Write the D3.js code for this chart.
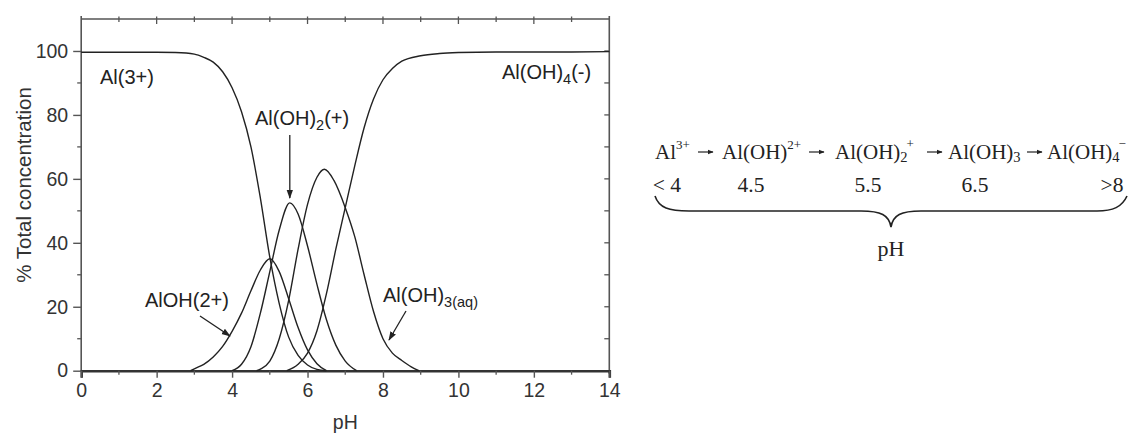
<!DOCTYPE html>
<html>
<head>
<meta charset="utf-8">
<script src="https://cdn.jsdelivr.net/npm/d3@7"></script>
<style>
  html, body { margin: 0; padding: 0; background: #fff; }
  svg { display: block; }
</style>
</head>
<body>
<svg id="chart" width="1128" height="435"></svg>
<script>
// Aluminium species distribution (% of total Al) versus pH
const phAl3 = [0, 1, 2, 2.5, 3, 3.25, 3.5, 3.75, 4, 4.25, 4.5, 4.75, 5, 5.25, 5.5, 5.75, 6, 6.25, 6.5];
const al3 = [99.6, 99.6, 99.6, 99.5, 99, 98, 96.5, 93.5, 88.5, 81, 70, 54, 35.5, 21, 10.5, 4.8, 1.8, 0.4, 0];

const phAlOH = [2.9, 3, 3.25, 3.5, 3.75, 4, 4.25, 4.5, 4.75, 5, 5.25, 5.5, 5.75, 6, 6.25, 6.5];
const alOH = [0, 0.6, 2, 4.3, 7.6, 12.3, 18, 25, 31.5, 35, 31, 22.5, 13.5, 6.5, 2.2, 0];

const phAlOH2 = [4, 4.25, 4.5, 4.75, 5, 5.25, 5.53, 5.75, 6, 6.25, 6.5, 6.75, 7, 7.3];
const alOH2 = [0, 2, 7.5, 18, 31, 44, 52.5, 49, 39, 27, 16, 8, 3, 0];

const phAlOH3 = [4.65, 4.75, 5, 5.25, 5.5, 5.75, 6, 6.25, 6.45, 6.7, 7, 7.25, 7.5, 7.75, 8, 8.25, 8.5, 8.75, 8.95];
const alOH3 = [0, 0.5, 3, 10, 22, 38, 52, 60.5, 63, 59.5, 51, 42, 30, 18.5, 10, 5.5, 3.2, 1.2, 0];

const phAlOH4 = [5.45, 5.75, 6, 6.25, 6.5, 6.75, 7, 7.25, 7.5, 7.75, 8, 8.25, 8.5, 9, 9.5, 10, 11, 12, 13, 14];
const alOH4 = [0, 2, 5.5, 12.5, 24, 38, 51, 64, 76, 85, 91, 94.5, 96.8, 98.5, 99.2, 99.5, 99.7, 99.7, 99.7, 99.8];

const xTicks = [0, 2, 4, 6, 8, 10, 12, 14];
const yTicks = [0, 20, 40, 60, 80, 100];

// Hydrolysis sequence shown beside the plot
const schemeSpecies = ["Al", "Al(OH)", "Al(OH)", "Al(OH)", "Al(OH)"];
const schemeSub = ["", "", "2", "3", "4"];
const schemeSup = ["3+", "2+", "+", "", "\u2212"];
const schemePH = ["< 4", "4.5", "5.5", "6.5", ">8"];

const svg = d3.select("#chart");
const plotL = 81.2, plotR = 609.3, plotT = 19, plotB = 370.7;

const x = d3.scaleLinear().domain([0, 14]).range([plotL, plotR]);
const y = d3.scaleLinear().domain([0, 110]).range([plotB, plotT]);

const ink = "#222";
const axisInk = "#555";
const sans = "'Liberation Sans', Arial, sans-serif";
const serif = "'Liberation Serif', 'Times New Roman', serif";

// Frame
const frame = svg.append("g");
frame.append("line").attr("x1", plotL).attr("x2", plotL).attr("y1", plotT - 3).attr("y2", plotB)
  .attr("stroke", axisInk).attr("stroke-width", 1.6);
frame.append("line").attr("x1", plotR).attr("x2", plotR).attr("y1", plotT - 3).attr("y2", plotB + 3)
  .attr("stroke", axisInk).attr("stroke-width", 1.6);
frame.append("line").attr("x1", plotL).attr("x2", plotR).attr("y1", plotT).attr("y2", plotT)
  .attr("stroke", axisInk).attr("stroke-width", 1.4);

// Bottom axis
const xAxis = d3.axisBottom(x).tickValues(xTicks).tickSize(7).tickPadding(5).tickFormat(d3.format("d"));
const gx = svg.append("g").attr("transform", `translate(0,${plotB})`).call(xAxis);
gx.select(".domain").attr("stroke", "#333").attr("stroke-width", 2.6);
gx.selectAll(".tick line").attr("stroke", axisInk).attr("stroke-width", 1.4);
gx.selectAll(".tick text").attr("font-family", sans).attr("font-size", 19.5).attr("fill", "#333");
const xMinor = d3.range(1, 14, 2);
svg.append("g").selectAll("line").data(xMinor).join("line")
  .attr("x1", d => x(d)).attr("x2", d => x(d)).attr("y1", plotB).attr("y2", plotB + 4)
  .attr("stroke", axisInk).attr("stroke-width", 1.3);

// Top ticks
svg.append("g").selectAll("line").data(d3.range(1, 14)).join("line")
  .attr("x1", d => x(d)).attr("x2", d => x(d))
  .attr("y1", plotT - 2.5).attr("y2", d => d % 2 === 0 ? plotT + 5 : plotT + 3)
  .attr("stroke", axisInk).attr("stroke-width", 1.3);

// Left axis
const yAxis = d3.axisLeft(y).tickValues(yTicks).tickSize(8).tickPadding(5);
const gy = svg.append("g").attr("transform", `translate(${plotL},0)`).call(yAxis);
gy.select(".domain").remove();
gy.selectAll(".tick line").attr("stroke", axisInk).attr("stroke-width", 1.4);
gy.selectAll(".tick text").attr("font-family", sans).attr("font-size", 19.5).attr("fill", "#333");
svg.append("g").selectAll("line").data(d3.range(10, 101, 20)).join("line")
  .attr("x1", plotL - 4).attr("x2", plotL).attr("y1", d => y(d)).attr("y2", d => y(d))
  .attr("stroke", axisInk).attr("stroke-width", 1.3);

// Right ticks (inward)
svg.append("g").selectAll("line").data(d3.range(10, 101, 10)).join("line")
  .attr("x1", plotR - 5).attr("x2", plotR).attr("y1", d => y(d)).attr("y2", d => y(d))
  .attr("stroke", axisInk).attr("stroke-width", 1.3);

// Axis titles
svg.append("text").attr("x", (plotL + plotR) / 2).attr("y", 429)
  .attr("text-anchor", "middle").attr("font-family", sans).attr("font-size", 19.5).attr("fill", "#333")
  .text("pH");
svg.append("text").attr("transform", `translate(31,185) rotate(-90)`)
  .attr("text-anchor", "middle").attr("font-family", sans).attr("font-size", 20.5).attr("fill", "#333")
  .text("% Total concentration");

// Species curves
const line = d3.line().x(d => x(d[0])).y(d => y(d[1])).curve(d3.curveMonotoneX);
const series = [
  [phAl3, al3], [phAlOH, alOH], [phAlOH2, alOH2], [phAlOH3, alOH3], [phAlOH4, alOH4]
];
svg.append("g").selectAll("path").data(series).join("path")
  .attr("d", s => line(d3.zip(s[0], s[1])))
  .attr("fill", "none").attr("stroke", ink).attr("stroke-width", 1.4);

// Curve labels
function label(px, py, parts) {
  const t = svg.append("text").attr("x", px).attr("y", py)
    .attr("font-family", sans).attr("font-size", 20).attr("fill", "#222");
  parts.forEach(p => {
    const ts = t.append("tspan").text(p.t);
    if (p.sub) ts.attr("font-size", 14.5).attr("dy", 5);
    if (p.back) ts.attr("dy", -5);
  });
  return t;
}
label(100, 84, [{ t: "Al(3+)" }]);
label(502, 79, [{ t: "Al(OH)" }, { t: "4", sub: true }, { t: "(-)", back: true }]);
label(255, 125, [{ t: "Al(OH)" }, { t: "2", sub: true }, { t: "(+)", back: true }]);
label(145, 307, [{ t: "AlOH(2+)" }]);
label(383, 302, [{ t: "Al(OH)" }, { t: "3(aq)", sub: true }]);

// Arrows
const defs = svg.append("defs");
defs.append("marker").attr("id", "head").attr("viewBox", "0 0 10 10")
  .attr("refX", 9).attr("refY", 5).attr("markerWidth", 7).attr("markerHeight", 7)
  .attr("orient", "auto-start-reverse")
  .append("path").attr("d", "M0,1.5 L10,5 L0,8.5 Z").attr("fill", "#222");
const arrows = [
  [[x(5.53), 135], [x(5.53), 198]],
  [[200, 316], [230, 336]],
  [[406, 311], [389, 340]]
];
svg.append("g").selectAll("line").data(arrows).join("line")
  .attr("x1", d => d[0][0]).attr("y1", d => d[0][1])
  .attr("x2", d => d[1][0]).attr("y2", d => d[1][1])
  .attr("stroke", "#222").attr("stroke-width", 1.3).attr("marker-end", "url(#head)");

// Reaction scheme
const schemeX = [655, 722, 835, 948, 1047];
const arrowX = [698, 809, 927, 1027];
const numX = [667, 751, 868, 975, 1112];
const scheme = svg.append("g").attr("font-family", serif).attr("fill", "#222");
schemeSpecies.forEach((s, i) => {
  const t = scheme.append("text").attr("x", schemeX[i]).attr("y", 159).attr("font-size", 21);
  t.append("tspan").text(s);
  if (schemeSub[i]) t.append("tspan").text(schemeSub[i]).attr("font-size", 14.5).attr("dy", 3);
  if (schemeSup[i]) t.append("tspan").text(schemeSup[i]).attr("font-size", 13)
    .attr("dy", schemeSub[i] ? -14 : -10).attr("dx", schemeSub[i] ? -1 : 0);
});
defs.append("marker").attr("id", "shead").attr("viewBox", "0 0 10 10")
  .attr("refX", 9).attr("refY", 5).attr("markerWidth", 5).attr("markerHeight", 5)
  .attr("orient", "auto")
  .append("path").attr("d", "M0,1 L10,5 L0,9 Z").attr("fill", "#222");
scheme.selectAll(".arr").data(arrowX).join("line").attr("class", "arr")
  .attr("x1", d => d).attr("x2", d => d + 15).attr("y1", 152).attr("y2", 152)
  .attr("stroke", "#222").attr("stroke-width", 1.2).attr("marker-end", "url(#shead)");
scheme.selectAll(".num").data(schemePH).join("text").attr("class", "num")
  .attr("x", (d, i) => numX[i]).attr("y", 192).attr("font-size", 21.5).attr("text-anchor", "middle")
  .text(d => d);

// Curly brace under the scheme
const bx0 = 655, bx1 = 1127, bm = 891, by = 211;
const brace = `M${bx0},196 C${bx0 + 4},208 ${bx0 + 14},${by} ${bx0 + 34},${by}
  L${bm - 30},${by} C${bm - 10},${by} ${bm - 2},${by + 4} ${bm},${by + 16}
  C${bm + 2},${by + 4} ${bm + 10},${by} ${bm + 30},${by}
  L${bx1 - 30},${by} C${bx1 - 14},${by} ${bx1 - 5},${by - 4} ${bx1},196`;
svg.append("path").attr("d", brace).attr("fill", "none").attr("stroke", "#222").attr("stroke-width", 1.6);
svg.append("text").attr("x", bm).attr("y", 256).attr("text-anchor", "middle")
  .attr("font-family", serif).attr("font-size", 22).attr("fill", "#222").text("pH");
</script>
</body>
</html>
